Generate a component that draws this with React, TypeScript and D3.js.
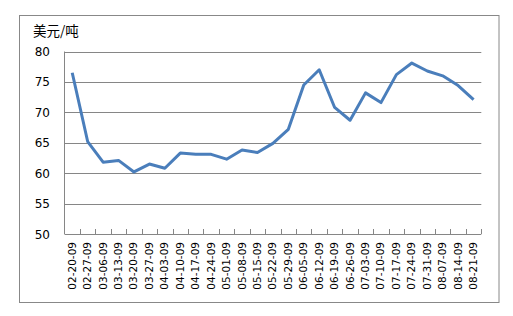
import React from "react";
import * as d3 from "d3";

const categories = ["02-20-09","02-27-09","03-06-09","03-13-09","03-20-09","03-27-09","04-03-09","04-10-09","04-17-09","04-24-09","05-01-09","05-08-09","05-15-09","05-22-09","05-29-09","06-05-09","06-12-09","06-19-09","06-26-09","07-03-09","07-10-09","07-17-09","07-24-09","07-31-09","08-07-09","08-14-09","08-21-09"];
const values = [76.5,65.2,61.8,62.1,60.2,61.5,60.8,63.3,63.1,63.1,62.3,63.8,63.4,64.9,67.2,74.5,77.0,70.8,68.7,73.2,71.6,76.2,78.1,76.8,76.0,74.4,72.1];
const yTicks = [50,55,60,65,70,75,80];
const unitLabel = "美元/吨";

export default function App() {
  const W = 513, H = 316;
  const left = 64.5, right = 481.3, top = 51.5, bottom = 234;
  const x = d3.scaleBand<string>().domain(categories).range([left, right]).paddingInner(0).paddingOuter(0);
  const y = d3.scaleLinear().domain([50, 80]).range([bottom, top]);
  const line = d3.line<number>().x((_, i) => (x(categories[i]) as number) + x.bandwidth() / 2).y(d => y(d));
  const grid = "#868686";
  const font = "DejaVu Sans, Verdana, sans-serif";
  return (
    <svg width={W} height={H} style={{ position: "absolute", left: 0, top: 0 }}>
      <rect x={0} y={0} width={W} height={H} fill="#fff" />
      <rect x={19.5} y={15.5} width={479.5} height={287} fill="#fff" stroke="#888" strokeWidth={1} />
      <text x={33} y={36} fontSize={13.5} fontFamily="'Noto Sans CJK SC', sans-serif" fill="#000">{unitLabel}</text>
      {yTicks.map(t => (
        <g key={t}>
          {t !== 50 && <line x1={left} x2={right} y1={Math.round(y(t)) + 0.5} y2={Math.round(y(t)) + 0.5} stroke={grid} strokeWidth={1} />}
          <text x={50} y={y(t) + 4.5} textAnchor="end" fontSize={12} fontFamily={font} fill="#000">{t}</text>
        </g>
      ))}
      <line x1={left} x2={left} y1={top} y2={bottom} stroke={grid} strokeWidth={1} />
      <line x1={left} x2={right} y1={bottom + 0.5} y2={bottom + 0.5} stroke={grid} strokeWidth={1} />
      {categories.map((c, i) => (
        <line key={"t" + i} x1={Math.round((x(c) as number) + x.bandwidth()) + 0.5} x2={Math.round((x(c) as number) + x.bandwidth()) + 0.5} y1={bottom - 5} y2={bottom} stroke={grid} strokeWidth={1} />
      ))}
      {categories.map((c, i) => {
        const cx = (x(c) as number) + x.bandwidth() / 2 + 3.5;
        return (
          <text key={c} transform={`translate(${cx},242) rotate(-90)`} textAnchor="end" fontSize={10.5} fontFamily={font} fill="#000">{c}</text>
        );
      })}
      <path d={line(values) || ""} fill="none" stroke="#4A7EBB" strokeWidth={3} strokeLinejoin="round" />
    </svg>
  );
}
